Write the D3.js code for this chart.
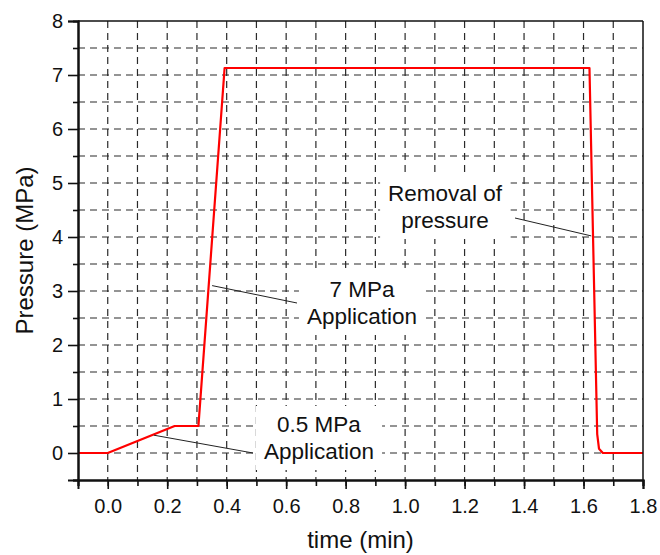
<!DOCTYPE html>
<html>
<head>
<meta charset="utf-8">
<script src="https://cdn.jsdelivr.net/npm/d3@7"></script>
<style>
  body { margin: 0; background: #fff; }
  svg { font-family: Arial, "Liberation Sans", sans-serif; }
</style>
</head>
<body>
<svg width="660" height="555"></svg>
<script>
// pressure profile
var timeMin = [-0.1, 0.0, 0.225, 0.305, 0.393, 1.62, 1.646, 1.652, 1.665, 1.8];
var pressureMPa = [0, 0, 0.5, 0.5, 7.13, 7.13, 0.35, 0.08, 0, 0];

var xTickValues = [0.0, 0.2, 0.4, 0.6, 0.8, 1.0, 1.2, 1.4, 1.6, 1.8];
var yTickValues = [0, 1, 2, 3, 4, 5, 6, 7, 8];

// annotations: label lines, text centre, arrow end on curve (data units)
var notes = [
  { lines: ["Removal of", "pressure"], cx: 445, top: 201, from: [515, 218], to: [1.626, 4.02] },
  { lines: ["7 MPa", "Application"], cx: 362, top: 297, from: [297, 303], to: [0.351, 3.1] },
  { lines: ["0.5 MPa", "Application"], cx: 319, top: 432, from: [253, 453], to: [0.155, 0.33] }
];

var svg = d3.select("svg");
var margin = { top: 21, right: 17, bottom: 75, left: 78 },
  width = +svg.attr("width") - margin.left - margin.right,
  height = +svg.attr("height") - margin.top - margin.bottom;

var x = d3.scaleLinear().domain([-0.1, 1.8]).range([0, width]);
var y = d3.scaleLinear().domain([-0.5, 8]).range([height, 0]);

var g = svg.append("g")
  .attr("transform", "translate(" + margin.left + "," + margin.top + ")");

// dashed grid
var xGrid = d3.range(0, 18).map(function (i) { return i / 10; });
var yGrid = d3.range(0, 16).map(function (i) { return i / 2; });

g.selectAll(".vgrid")
  .data(xGrid)
  .enter().append("line")
  .attr("class", "vgrid")
  .attr("x1", function (d) { return x(d); })
  .attr("x2", function (d) { return x(d); })
  .attr("y1", 0).attr("y2", height)
  .attr("stroke", "#2a2a2a").attr("stroke-width", 1.2)
  .attr("stroke-dasharray", "7,5");

g.selectAll(".hgrid")
  .data(yGrid)
  .enter().append("line")
  .attr("class", "hgrid")
  .attr("x1", 0).attr("x2", width)
  .attr("y1", function (d) { return y(d); })
  .attr("y2", function (d) { return y(d); })
  .attr("stroke", "#2a2a2a").attr("stroke-width", 1.2)
  .attr("stroke-dasharray", "7,5");

// annotation backgrounds + text
var noteG = g.append("g");
notes.forEach(function (n) {
  var grp = noteG.append("g");
  var bg = grp.append("rect").attr("fill", "#fff");
  var txt = grp.append("text")
    .attr("text-anchor", "middle")
    .attr("font-size", 22.5)
    .attr("fill", "#111");
  n.lines.forEach(function (line, i) {
    txt.append("tspan")
      .attr("x", n.cx - margin.left)
      .attr("y", n.top - margin.top + i * 27)
      .text(line);
  });
  var bb = txt.node().getBBox();
  bg.attr("x", bb.x - 8).attr("y", bb.y - 6)
    .attr("width", bb.width + 16).attr("height", bb.height + 12);
});

// curve
var line = d3.line()
  .x(function (d, i) { return x(timeMin[i]); })
  .y(function (d, i) { return y(pressureMPa[i]); });

g.append("path")
  .datum(timeMin)
  .attr("fill", "none")
  .attr("stroke", "#ff0000")
  .attr("stroke-width", 2.2)
  .attr("stroke-linejoin", "round")
  .attr("d", line);

// leader lines
notes.forEach(function (n) {
  g.append("line")
    .attr("x1", n.from[0] - margin.left)
    .attr("y1", n.from[1] - margin.top)
    .attr("x2", x(n.to[0]))
    .attr("y2", y(n.to[1]))
    .attr("stroke", "#222").attr("stroke-width", 1);
});

// frame
g.append("line").attr("x1", 0).attr("x2", width).attr("y1", 0).attr("y2", 0)
  .attr("stroke", "#111").attr("stroke-width", 1.5);
g.append("line").attr("x1", width).attr("x2", width).attr("y1", 0).attr("y2", height)
  .attr("stroke", "#111").attr("stroke-width", 1.5);

// minor ticks
var xMinor = d3.range(-1, 19).map(function (i) { return i / 10; });
var yMinor = d3.range(-1, 16, 2).map(function (i) { return i / 2; });

var xAxis = g.append("g")
  .attr("transform", "translate(0," + height + ")")
  .call(d3.axisBottom(x).tickValues(xMinor).tickSize(6).tickFormat(""));
var xAxisMajor = g.append("g")
  .attr("transform", "translate(0," + height + ")")
  .call(d3.axisBottom(x).tickValues(xTickValues).tickSize(9).tickPadding(10)
    .tickFormat(d3.format(".1f")));

var yAxis = g.append("g")
  .call(d3.axisLeft(y).tickValues(yMinor).tickSize(5).tickFormat(""));
var yAxisMajor = g.append("g")
  .call(d3.axisLeft(y).tickValues(yTickValues).tickSize(10).tickPadding(5)
    .tickFormat(d3.format("d")));

[xAxis, xAxisMajor, yAxis, yAxisMajor].forEach(function (a) {
  a.select(".domain").attr("stroke", "#111").attr("stroke-width", 2);
  a.selectAll(".tick line").attr("stroke", "#111").attr("stroke-width", 1.6);
  a.selectAll(".tick text").attr("font-size", 20).attr("fill", "#111")
    .attr("font-family", "Arial, 'Liberation Sans', sans-serif");
});

// axis titles
svg.append("text")
  .attr("x", margin.left + x(0.85))
  .attr("y", 548)
  .attr("text-anchor", "middle")
  .attr("font-size", 24)
  .attr("fill", "#111")
  .text("time (min)");

svg.append("text")
  .attr("transform", "translate(33," + (margin.top + height / 2) + ") rotate(-90)")
  .attr("text-anchor", "middle")
  .attr("font-size", 24)
  .attr("fill", "#111")
  .text("Pressure (MPa)");
</script>
</body>
</html>
